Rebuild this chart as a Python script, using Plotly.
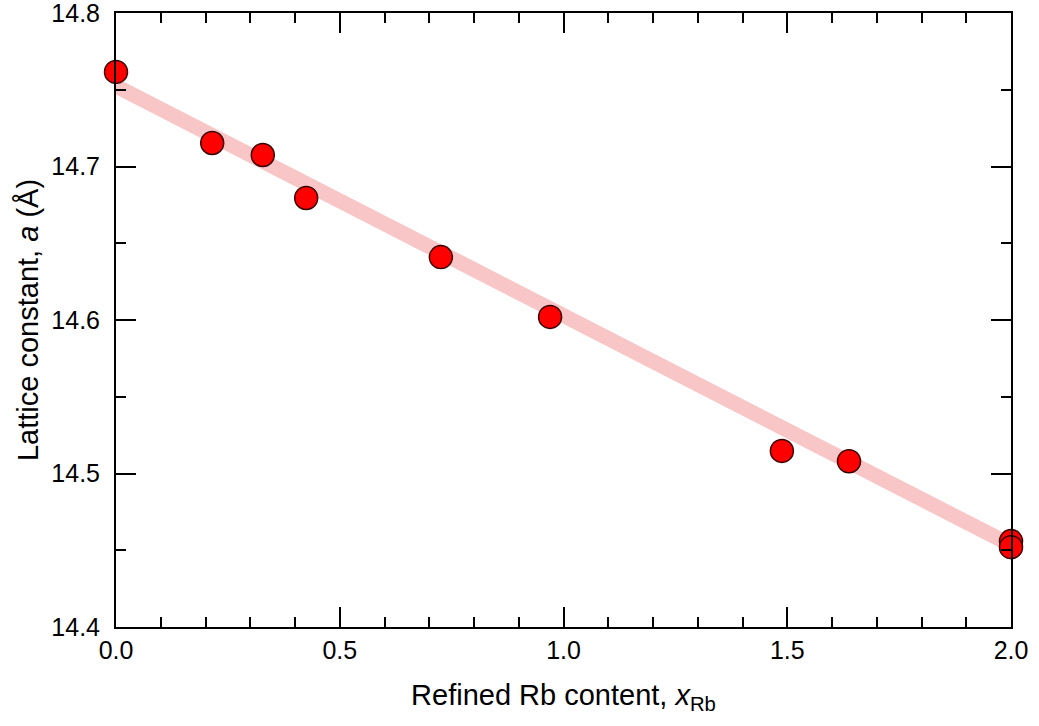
import plotly.graph_objects as go

# data
x_rb = [0.0, 0.215, 0.328, 0.425, 0.726, 0.970, 1.488, 1.638, 2.0, 2.0]
lattice_a = [14.7616, 14.7153, 14.7075, 14.6795, 14.641, 14.602, 14.5147, 14.508, 14.456, 14.452]
fit_x = [0.0, 2.0]
fit_y = [14.7524, 14.4534]

fig = go.Figure()
fig.add_trace(go.Scatter(x=fit_x, y=fit_y, mode="lines",
                         line=dict(color="#F8C6C6", width=15), hoverinfo="skip", cliponaxis=False))
fig.add_trace(go.Scatter(x=x_rb, y=lattice_a, mode="markers",
                         marker=dict(color="#FF0000", size=23, line=dict(color="#3a0000", width=1.5)),
                         cliponaxis=False))

font_family = "Liberation Sans, Arial, sans-serif"
axis_common = dict(showgrid=False, zeroline=False, showline=True, linecolor="black", linewidth=2,
                   mirror="allticks", ticks="inside", ticklen=20, tickwidth=1.5, tickcolor="black",
                   ticklabeloverflow="allow", automargin=False,
                   tickfont=dict(family=font_family, size=25, color="black"))
fig.update_xaxes(range=[0, 2.0], tick0=0, dtick=0.5, tickformat=".1f",
                 minor=dict(dtick=0.1, ticklen=10, tickwidth=1.5, tickcolor="black", ticks="inside"),
                 title=dict(text="Refined Rb content, <i>x</i><sub>Rb</sub>",
                            font=dict(family=font_family, size=29, color="black"), standoff=22),
                 **axis_common)
fig.update_yaxes(range=[14.4, 14.8], tick0=14.4, dtick=0.1, tickformat=".1f",
                 ticklabelstandoff=9,
                 minor=dict(dtick=0.05, ticklen=10, tickwidth=1.5, tickcolor="black", ticks="inside"),
                 title=dict(text="Lattice constant, <i>a</i> (Å)",
                            font=dict(family=font_family, size=29, color="black"), standoff=4),
                 **axis_common)
fig.update_layout(width=1039, height=726, margin=dict(l=116, r=28, t=13, b=99),
                  paper_bgcolor="white", plot_bgcolor="white", showlegend=False)
fig.write_html("out.html")
